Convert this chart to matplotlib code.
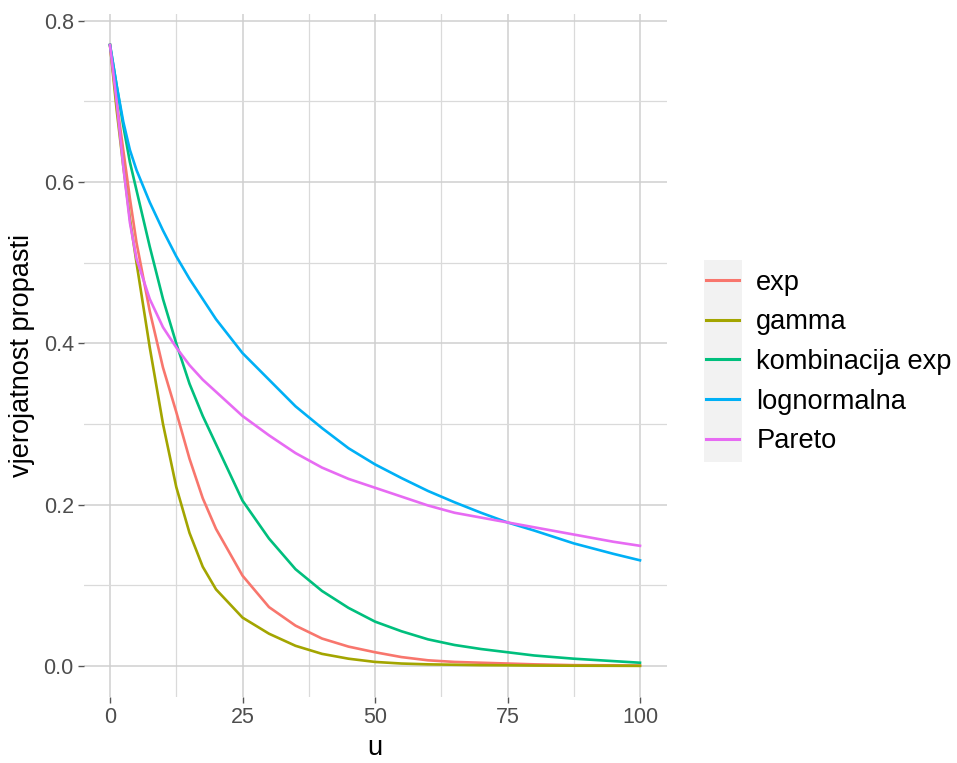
import matplotlib
matplotlib.use("Agg")
import matplotlib.pyplot as plt
from matplotlib.patches import Rectangle
from matplotlib.ticker import MultipleLocator

u = [0, 1.25, 2.5, 3.75, 5, 7.5, 10, 12.5, 15, 17.5, 20, 25, 30, 35, 40, 45,
     50, 55, 60, 65, 70, 75, 80, 87.5, 95, 100]

exp_vals = [0.770, 0.700, 0.640, 0.580, 0.525, 0.440, 0.370, 0.315, 0.257, 0.208,
            0.170, 0.112, 0.073, 0.050, 0.034, 0.024, 0.017, 0.011, 0.007, 0.005,
            0.004, 0.003, 0.002, 0.001, 0.0008, 0.0005]
gamma_vals = [0.770, 0.690, 0.620, 0.555, 0.500, 0.395, 0.300, 0.222, 0.165, 0.123,
              0.095, 0.060, 0.040, 0.025, 0.015, 0.009, 0.005, 0.003, 0.002, 0.0015,
              0.001, 0.0008, 0.0005, 0.0003, 0.0002, 0.0001]
komb_vals = [0.770, 0.720, 0.670, 0.625, 0.590, 0.520, 0.455, 0.400, 0.350, 0.310,
             0.275, 0.205, 0.158, 0.120, 0.093, 0.072, 0.055, 0.043, 0.033, 0.026,
             0.021, 0.017, 0.013, 0.009, 0.006, 0.004]
logn_vals = [0.770, 0.720, 0.675, 0.640, 0.615, 0.575, 0.540, 0.508, 0.480, 0.455,
             0.430, 0.388, 0.355, 0.322, 0.295, 0.270, 0.250, 0.233, 0.217, 0.203,
             0.190, 0.178, 0.168, 0.152, 0.139, 0.131]
pareto_vals = [0.770, 0.700, 0.620, 0.550, 0.505, 0.455, 0.420, 0.395, 0.373, 0.355,
               0.340, 0.310, 0.286, 0.264, 0.246, 0.232, 0.221, 0.210, 0.199, 0.190,
               0.184, 0.178, 0.172, 0.163, 0.154, 0.149]

labels = ["exp", "gamma", "kombinacija exp", "lognormalna", "Pareto"]
colors = ["#F8766D", "#A3A500", "#00BF7D", "#00B0F6", "#E76BF3"]
series = [exp_vals, gamma_vals, komb_vals, logn_vals, pareto_vals]

x_ticks = [0, 25, 50, 75, 100]
y_ticks = [0.0, 0.2, 0.4, 0.6, 0.8]
y_tick_labels = ["0.0", "0.2", "0.4", "0.6", "0.8"]

plt.rcParams['font.family'] = ['Liberation Sans', 'DejaVu Sans']

W, H = 957, 763
fig = plt.figure(figsize=(W / 100, H / 100), dpi=100)
fig.patch.set_facecolor("white")
ax = fig.add_axes([83.5 / W, 1 - 697 / H, (666.5 - 83.5) / W, (697 - 14) / H])
ax.set_facecolor("white")

for vals, lab, col in zip(series, labels, colors):
    ax.plot(u, vals, color=col, lw=1.9, label=lab, solid_joinstyle="round")

ax.set_xlim(-5, 105)
ax.set_ylim(-0.0385, 0.8085)
ax.set_xticks(x_ticks)
ax.set_xticklabels([str(t) for t in x_ticks])
ax.set_yticks(y_ticks)
ax.set_yticklabels(y_tick_labels)
ax.xaxis.set_minor_locator(MultipleLocator(12.5))
ax.yaxis.set_minor_locator(MultipleLocator(0.1))

ax.grid(which="major", color="#cfcfcf", lw=1.1)
ax.grid(which="minor", color="#dadada", lw=0.9)
ax.set_axisbelow(True)
for s in ax.spines.values():
    s.set_visible(False)

ax.tick_params(which="major", direction="out", length=4, width=1.0, color="#555555",
               labelsize=15.5, labelcolor="#4D4D4D", pad=3)
ax.tick_params(which="minor", length=0)

ax.set_xlabel("u", fontsize=19.5, color="black", labelpad=5)
ax.set_ylabel("vjerojatnost propasti", fontsize=19.5, color="black", labelpad=6)

# legend key background
fig.patches.append(Rectangle((704 / W, 1 - 462 / H), 38 / W, 202 / H,
                             transform=fig.transFigure, facecolor="#F2F2F2",
                             edgecolor="none", zorder=-5))
leg = ax.legend(loc="center left", bbox_to_anchor=(706 / W, 1 - 362 / H),
                bbox_transform=fig.transFigure, frameon=False, fontsize=19.6,
                handlelength=1.2, handletextpad=0.65, labelspacing=0.50,
                borderpad=0, borderaxespad=0)
for line in leg.get_lines():
    line.set_linewidth(2.2)

fig.savefig("out.png", dpi=100, facecolor="white")
